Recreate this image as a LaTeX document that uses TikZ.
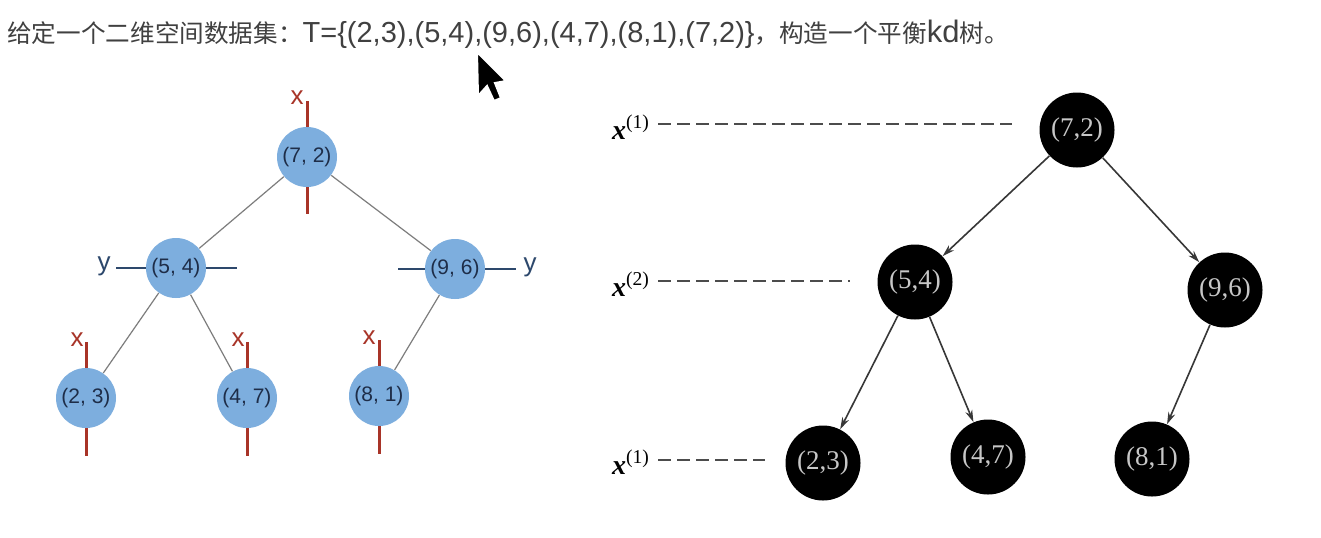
\documentclass[tikz,border=0pt]{standalone}
\usepackage{fontspec}
\setmainfont{Liberation Sans}
\newfontfamily\cjk{Noto Sans CJK SC}
\newfontfamily\numserif{Liberation Serif}
\usepackage{xcolor}
\usetikzlibrary{arrows.meta}
\definecolor{ballblue}{RGB}{125,174,222}
\definecolor{balltext}{RGB}{30,45,72}
\definecolor{splitred}{RGB}{168,52,40}
\definecolor{splitnavy}{RGB}{45,72,108}
\definecolor{twiggray}{RGB}{125,125,125}
\definecolor{arcgray}{RGB}{55,55,55}

\begin{document}
\begin{tikzpicture}[x=0.5pt, y=-0.5pt,
  ball/.style={circle, fill=ballblue, minimum size=30pt, inner sep=0pt, text=balltext, font=\fontsize{10.5}{12}\selectfont},
  coal/.style={circle, fill=black, minimum size=37.5pt, inner sep=0pt, text=black!22, font=\numserif\fontsize{13.5}{15}\selectfont},
  xcut/.style={draw=splitred, line width=1.5pt},
  ycut/.style={draw=splitnavy, line width=1.3pt},
  cutlabel/.style={inner sep=0pt, font=\fontsize{13}{15}\selectfont},
  twig/.style={draw=twiggray, line width=0.6pt},
  arc/.style={draw=arcgray, line width=0.8pt, -{Stealth[length=6pt, width=3.6pt]}},
  lvl/.style={inner sep=0pt, font=\numserif\fontsize{14}{16}\selectfont},
  guide/.style={draw=black!70, line width=1pt, dash pattern=on 6.5pt off 3pt, shorten <=4pt}]

\useasboundingbox (0,0) rectangle (1321,537);
\fill[white] (0,0) rectangle (1321,537);

\node[anchor=base west, inner sep=0pt, text=black!75] (title) at (7,42) {{\cjk\fontsize{12.3}{14}\selectfont 给定一个二维空间数据集：}\fontsize{14.5}{16}\selectfont T=\{(2,3),(5,4),(9,6),(4,7),(8,1),(7,2)\}{\cjk\fontsize{12.3}{14}\selectfont ，构造一个平衡}\fontsize{15.5}{16}\selectfont kd{\cjk\fontsize{12.3}{14}\selectfont 树。}};

% split marks behind the balls
\draw[xcut] (307,101) -- (307,214);
\draw[xcut] (86,342) -- (86,456);
\draw[xcut] (247,342) -- (247,456);
\draw[xcut] (379,340) -- (379,454);
\draw[ycut] (116,268) -- (237,268);
\draw[ycut] (398,269) -- (516,269);
\node[cutlabel, text=splitred] (xa) at (297,98) {x};
\node[cutlabel, text=splitred] (xb) at (77,340) {x};
\node[cutlabel, text=splitred] (xc) at (238,340) {x};
\node[cutlabel, text=splitred] (xd) at (369,338) {x};
\node[cutlabel, text=splitnavy] (ya) at (104,266) {y};
\node[cutlabel, text=splitnavy] (yb) at (530,267) {y};

\node[ball] (l72) at (307,157) {(7, 2)};
\node[ball] (l54) at (176,268) {(5, 4)};
\node[ball] (l96) at (455,269) {(9, 6)};
\node[ball] (l23) at (86,398) {(2, 3)};
\node[ball] (l47) at (247,398) {(4, 7)};
\node[ball] (l81) at (379,396) {(8, 1)};

\draw[twig] (l72) -- (l54);
\draw[twig] (l72) -- (l96);
\draw[twig] (l54) -- (l23);
\draw[twig] (l54) -- (l47);
\draw[twig] (l96) -- (l81);

\node[coal] (r72) at (1077,130) {(7,2)};
\node[coal] (r54) at (915,282) {(5,4)};
\node[coal] (r96) at (1225,290) {(9,6)};
\node[coal] (r23) at (823,463) {(2,3)};
\node[coal] (r47) at (988,457) {(4,7)};
\node[coal] (r81) at (1152,459) {(8,1)};

\draw[arc] (r72) -- (r54);
\draw[arc] (r72) -- (r96);
\draw[arc] (r54) -- (r23);
\draw[arc] (r54) -- (r47);
\draw[arc] (r96) -- (r81);

\node[lvl] (g1) at (631,127) {\textit{\textbf{x}}\textsuperscript{(1)}};
\node[lvl] (g2) at (631,284) {\textit{\textbf{x}}\textsuperscript{(2)}};
\node[lvl] (g3) at (631,462) {\textit{\textbf{x}}\textsuperscript{(1)}};
\coordinate (e1) at (1012,124);
\coordinate (e2) at (850,281);
\coordinate (e3) at (765,460);
\draw[guide] (g1.east |- e1) -- (e1);
\draw[guide] (g2.east |- e2) -- (e2);
\draw[guide] (g3.east |- e3) -- (e3);

% pointer
\filldraw[fill=black, draw=white, line width=1pt] (477,52) -- (478,96) -- (487,86) -- (494,101) -- (501,98) -- (495,83) -- (506,81) -- cycle;
\end{tikzpicture}
\end{document}
